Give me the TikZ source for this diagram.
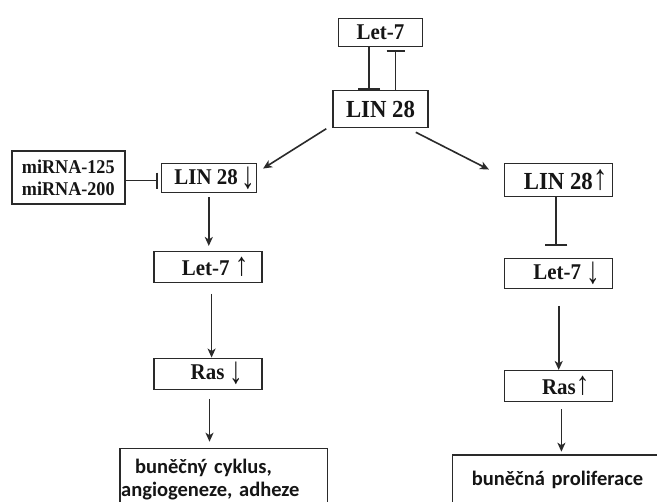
\documentclass[tikz,border=0pt]{standalone}
\usepackage{graphicx}
\usepackage{fontspec}
\setmainfont[FakeStretch=0.93]{Liberation Serif}
\newfontfamily\carl{Carlito}
\usetikzlibrary{arrows.meta}
\definecolor{ln}{HTML}{2A2A2A}
\definecolor{tx}{HTML}{151515}
\newcommand\upar{\scalebox{1.3}[1.45]{↑}}
\newcommand\dnar{\raisebox{-4bp}{\scalebox{1.3}[1.7]{↓}}}
\begin{document}
\begin{tikzpicture}[x=1bp,y=-1bp,
  lbl/.style={font=\bfseries\fontsize{22.5bp}{24bp}\selectfont, text=tx},
  biglbl/.style={font=\bfseries\fontsize{24.5bp}{26bp}\selectfont, text=tx},
  box/.style={draw=ln, line width=1.5bp, inner sep=0pt, lbl},
  sansbox/.style={draw=ln, line width=1.5bp, text=tx, align=left,
    font=\carl\bfseries\fontsize{20.5bp}{23bp}\selectfont},
  conn/.style={draw=ln, line width=1.6bp},
  arr/.style={conn, -{Stealth[length=9bp,width=8bp,inset=2.5bp]}},
  inh/.style={conn, -{Bar[width=22bp,line width=2.2bp]}}
]
\fill[white] (0,0) rectangle (657,502);
\clip (0,0) rectangle (657,502);

% nodes
\node[box, minimum width=84bp, minimum height=28bp] (let7a) at (380.5,32.5) {Let-7};
\node[box, biglbl, minimum width=95bp, minimum height=37bp] (lin28) at (380.5,109) {LIN 28};
\node[box, align=center, minimum width=113bp, minimum height=53bp,
  font=\bfseries\fontsize{19.5bp}{22bp}\selectfont] (mirna) at (68.3,177.7) {miRNA-125\\miRNA-200};
\node[box, minimum width=95bp, minimum height=29.4bp] (lindn) at (208.8,178) {\hspace{12bp}LIN 28\,\dnar};
\node[box, minimum width=108bp, minimum height=31bp] (let7up) at (208.2,267.2) {\hspace{14bp}Let-7 \upar};
\node[box, minimum width=108bp, minimum height=31bp] (rasdn) at (208,373.8) {\hspace{18bp}Ras \dnar};
\node[box, biglbl, minimum width=108bp, minimum height=33.4bp] (linup) at (558.7,180) {\hspace{14bp}LIN 28\upar};
\node[box, minimum width=108bp, minimum height=30bp] (let7dn) at (558.7,273.3) {\hspace{16bp}Let-7 \dnar};
\node[box, minimum width=108bp, minimum height=31bp] (rasup) at (558.7,386.2) {\hspace{14bp}Ras\upar};
\node[sansbox, anchor=north west, text width=205.4bp, inner xsep=1bp, inner ysep=0pt,
  minimum height=62bp] (bl) at (119.4,447.7) {\hspace*{14bp}buněčný cyklus,\\angiogeneze, adheze};
\node[sansbox, anchor=north west, text width=220bp, inner xsep=19.5bp, inner ysep=0pt,
  minimum height=50bp] (br) at (451.6,454) {buněčná proliferace};

% connectors
\draw[inh] ([xshift=-11.5bp]let7a.south) -- ([xshift=-11.5bp]let7a.south |- lin28.north);
\draw[conn, -{Bar[width=18bp,line width=2.2bp]}, shorten >=2.5bp]
  ([xshift=15bp]lin28.north) -- ([xshift=15bp]lin28.north |- let7a.south);
\draw[conn, -{Bar[width=16bp,line width=2.2bp]}, shorten >=2.3bp]
  ([yshift=-3bp]mirna.east) -- ([yshift=-3bp]mirna.east -| lindn.west);
\draw[arr] ([xshift=-6bp,yshift=-0.5bp]lin28.south west) -- ([xshift=6bp,yshift=-6bp]lindn.north east);
\draw[arr] ([xshift=-13bp,yshift=-4bp]lin28.south east) -- ([xshift=-15bp,yshift=-7bp]linup.north west);
\draw[arr, shorten <=4bp, shorten >=5bp] (lindn.south) -- (lindn.south |- let7up.north);
\draw[arr, shorten <=10.5bp] ([xshift=3.4bp]let7up.south) -- ([xshift=3.4bp]let7up.south |- rasdn.north);
\draw[arr, shorten <=8.7bp, shorten >=6bp] ([xshift=1.5bp]rasdn.south) -- ([xshift=1.5bp]rasdn.south |- bl.north);
\draw[conn, -{Bar[width=22.5bp,line width=2.2bp]}, shorten >=11.6bp]
  ([xshift=-2.7bp]linup.south) -- ([xshift=-2.7bp]linup.south |- let7dn.north);
\draw[arr, shorten <=16.7bp] (let7dn.south) -- (let7dn.south |- rasup.north);
\draw[arr, shorten <=6.6bp, shorten >=2.3bp] ([xshift=2.7bp]rasup.south) -- ([xshift=2.7bp]rasup.south |- br.north);
\end{tikzpicture}
\end{document}
